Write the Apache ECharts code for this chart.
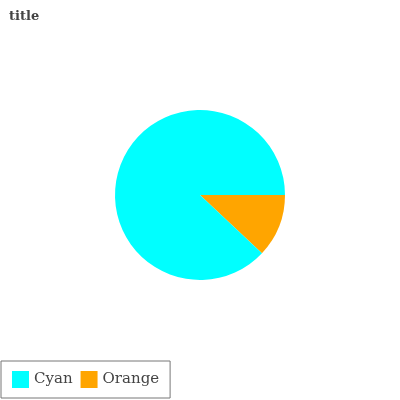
<!DOCTYPE html>
<html>
<head>
<meta charset="utf-8">
<script src="https://cdn.jsdelivr.net/npm/echarts@6/dist/echarts.min.js"></script>
<style>html,body{margin:0;padding:0;background:#fff}#main{width:400px;height:400px}</style>
</head>
<body>
<div id="main"></div>
<script>
var categories = ['Cyan', 'Orange'];
var values = [88, 12];
var colors = ['#00ffff', '#ffa500'];

var chart = echarts.init(document.getElementById('main'));
// orange first so it starts at 3 o'clock and runs clockwise
var pieData = [];
for (var i = categories.length - 1; i >= 0; i--) {
    pieData.push({ name: categories[i], value: values[i], itemStyle: { color: colors[i] } });
}
chart.setOption({
    animation: false,
    title: {
        text: 'title', left: 4, top: 5,
        textStyle: { fontFamily: 'DejaVu Serif', fontSize: 13, fontWeight: 'bold', color: '#444' }
    },
    legend: {
        data: categories, left: 1, bottom: 2, orient: 'horizontal',
        itemWidth: 17, itemHeight: 17, itemGap: 8,
        padding: [10, 11, 10, 11],
        borderColor: '#777', borderWidth: 1,
        icon: 'rect',
        textStyle: { fontFamily: 'DejaVu Serif', fontSize: 15, color: '#444' }
    },
    series: [{
        type: 'pie', center: [200, 195], radius: 85, startAngle: 0, clockwise: true,
        label: { show: false }, labelLine: { show: false },
        emphasis: { disabled: true },
        data: pieData
    }]
});
</script>
</body>
</html>
